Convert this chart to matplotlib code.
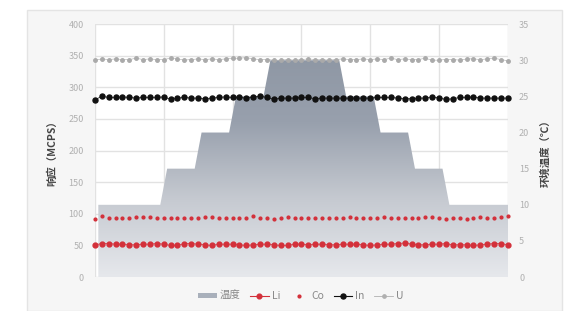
import numpy as np
import matplotlib
matplotlib.use("Agg")
import matplotlib.pyplot as plt
from matplotlib.patches import Rectangle, PathPatch
from matplotlib.colors import LinearSegmentedColormap

plt.rcParams['font.family'] = ['Noto Sans CJK SC', 'DejaVu Sans']

# ambient temperature (right axis), one value per sample
temp = [10, 10, 10, 10, 10, 10, 10, 10, 10, 10,
        15, 15, 15, 15, 15,
        20, 20, 20, 20, 20,
        25, 25, 25, 25, 25,
        30, 30, 30, 30, 30, 30, 30, 30, 30, 30, 30,
        25, 25, 25, 25, 25,
        20, 20, 20, 20, 20,
        15, 15, 15, 15, 15,
        10, 10, 10, 10, 10, 10, 10, 10, 10, 10]

# responses (MCPS)
li = [51, 53, 53, 52, 52, 51, 51, 52, 52, 53, 52, 50, 50, 53, 53, 52, 51, 50, 52, 52,
      52, 51, 50, 51, 52, 52, 51, 50, 50, 52, 52, 51, 52, 52, 51, 51, 52, 52, 52, 51,
      50, 51, 52, 52, 53, 54, 52, 51, 51, 52, 52, 53, 51, 51, 51, 50, 51, 52, 53, 53, 51]
co = [92, 96, 94, 94, 94, 94, 95, 95, 95, 93, 93, 94, 94, 94, 93, 94, 95, 95, 94, 94,
      93, 93, 94, 96, 93, 94, 92, 93, 95, 94, 94, 93, 93, 93, 93, 93, 94, 95, 93, 93,
      93, 94, 95, 94, 93, 94, 93, 93, 95, 95, 93, 92, 93, 93, 92, 94, 95, 94, 93, 95, 96]
in_ = [280, 286, 284, 284, 285, 284, 283, 284, 284, 284, 285, 281, 283, 284, 283, 283, 282, 283, 284, 285,
       284, 284, 283, 285, 286, 284, 281, 283, 283, 283, 284, 284, 282, 283, 283, 283, 283, 283, 283, 283,
       283, 284, 284, 284, 283, 282, 282, 283, 283, 285, 283, 281, 282, 284, 284, 285, 283, 283, 283, 283, 283]
u = [343, 345, 344, 345, 344, 344, 346, 344, 345, 344, 344, 346, 345, 343, 344, 345, 344, 345, 344, 345,
     346, 346, 347, 345, 344, 344, 343, 343, 344, 343, 344, 345, 344, 344, 343, 344, 345, 344, 344, 345,
     344, 345, 344, 346, 344, 345, 344, 344, 346, 343, 343, 344, 344, 343, 345, 345, 344, 345, 346, 344, 342]

left_ticks = [0, 50, 100, 150, 200, 250, 300, 350, 400]
right_ticks = [0, 5, 10, 15, 20, 25, 30, 35]

x = np.arange(len(li))
xt = np.arange(len(temp)) + 0.5

fig = plt.figure(figsize=(5.75, 3.11), dpi=100)
fig.patch.set_facecolor('white')
fig.patches.append(Rectangle((0.047, 0.0), 0.93, 0.968, transform=fig.transFigure,
                             facecolor='#f6f6f6', edgecolor='#e4e4e4', lw=1, zorder=-5))

rect = [0.165, 0.109, 0.7183, 0.8135]
ax = fig.add_axes(rect)
ax.set_facecolor('white')
ax.set_xlim(0, 60)
ax.set_ylim(0, 400)
ax.set_yticks(left_ticks)
ax.set_xticks([0, 10, 20, 30, 40, 50, 60])
ax.set_xticklabels([])
ax.grid(True, color='#e2e2e2', lw=1)
ax.tick_params(length=0, labelsize=6.5, labelcolor='#b0b0b0', pad=8)
for s in ax.spines.values():
    s.set_visible(False)
ax.set_ylabel('响应（MCPS）', fontsize=7.5, color='#444444', labelpad=8, fontweight='bold')

# temperature area on the right axis
ax_t = ax.twinx()
ax_t.set_xlim(0, 60)
ax_t.set_ylim(0, 35)
ax_t.set_yticks(right_ticks)
ax_t.tick_params(length=0, labelsize=6.5, labelcolor='#b0b0b0', pad=8)
for s in ax_t.spines.values():
    s.set_visible(False)
ax_t.set_ylabel('环境温度（℃）', fontsize=7.5, color='#444444', labelpad=8, rotation=90,
                fontweight='bold')
fb = ax_t.fill_between(xt, temp, 0, facecolor='none', edgecolor='none')
clip = PathPatch(fb.get_paths()[0], transform=ax_t.transData, fc='none', ec='none')
ax_t.add_patch(clip)
cmap = LinearSegmentedColormap.from_list('g', ['#e6e8ec', '#c6cad1', '#98a0ad', '#8d96a3'])
grad = np.linspace(0, 1, 256).reshape(-1, 1)
im = ax_t.imshow(grad, cmap=cmap, origin='lower', extent=[0, 61, 0, 32], aspect='auto')
im.set_clip_path(clip)
ax_t.set_xlim(0, 60)
ax_t.set_ylim(0, 35)

# series on top
ax_s = ax.twinx()
ax_s.set_ylim(0, 400)
ax_s.set_xlim(0, 60)
ax_s.axis('off')
red = '#d3303a'
ax_s.plot(x, li, color=red, lw=0.5, marker='o', ms=3.5, clip_on=False)
ax_s.plot(x, co, color=red, lw=0, marker='o', ms=2.0, clip_on=False)
ax_s.plot(x, in_, color='#111111', lw=0.5, marker='o', ms=3.6, clip_on=False)
ax_s.plot(x, u, color='#aaaaaa', lw=0.4, marker='o', ms=2.5, clip_on=False)

h_area = Rectangle((0, 0), 1, 1, facecolor='#a9b0bb', edgecolor='none')
h_li, = ax_s.plot([], [], color=red, lw=0.8, marker='o', ms=3.4)
h_co, = ax_s.plot([], [], color=red, lw=0, marker='o', ms=2.0)
h_in, = ax_s.plot([], [], color='#111111', lw=0.8, marker='o', ms=3.6)
h_u, = ax_s.plot([], [], color='#b0b0b0', lw=0.6, marker='o', ms=2.4)
leg = fig.legend([h_area, h_li, h_co, h_in, h_u], ['温度', 'Li', 'Co', 'In', 'U'],
                 loc='center', bbox_to_anchor=(0.523, 0.048), ncol=5, frameon=False,
                 fontsize=7.5, handlelength=1.8, handleheight=0.35, columnspacing=0.9,
                 handletextpad=0.3)
for t in leg.get_texts():
    t.set_color('#888888')

fig.savefig('out.png', dpi=100)
